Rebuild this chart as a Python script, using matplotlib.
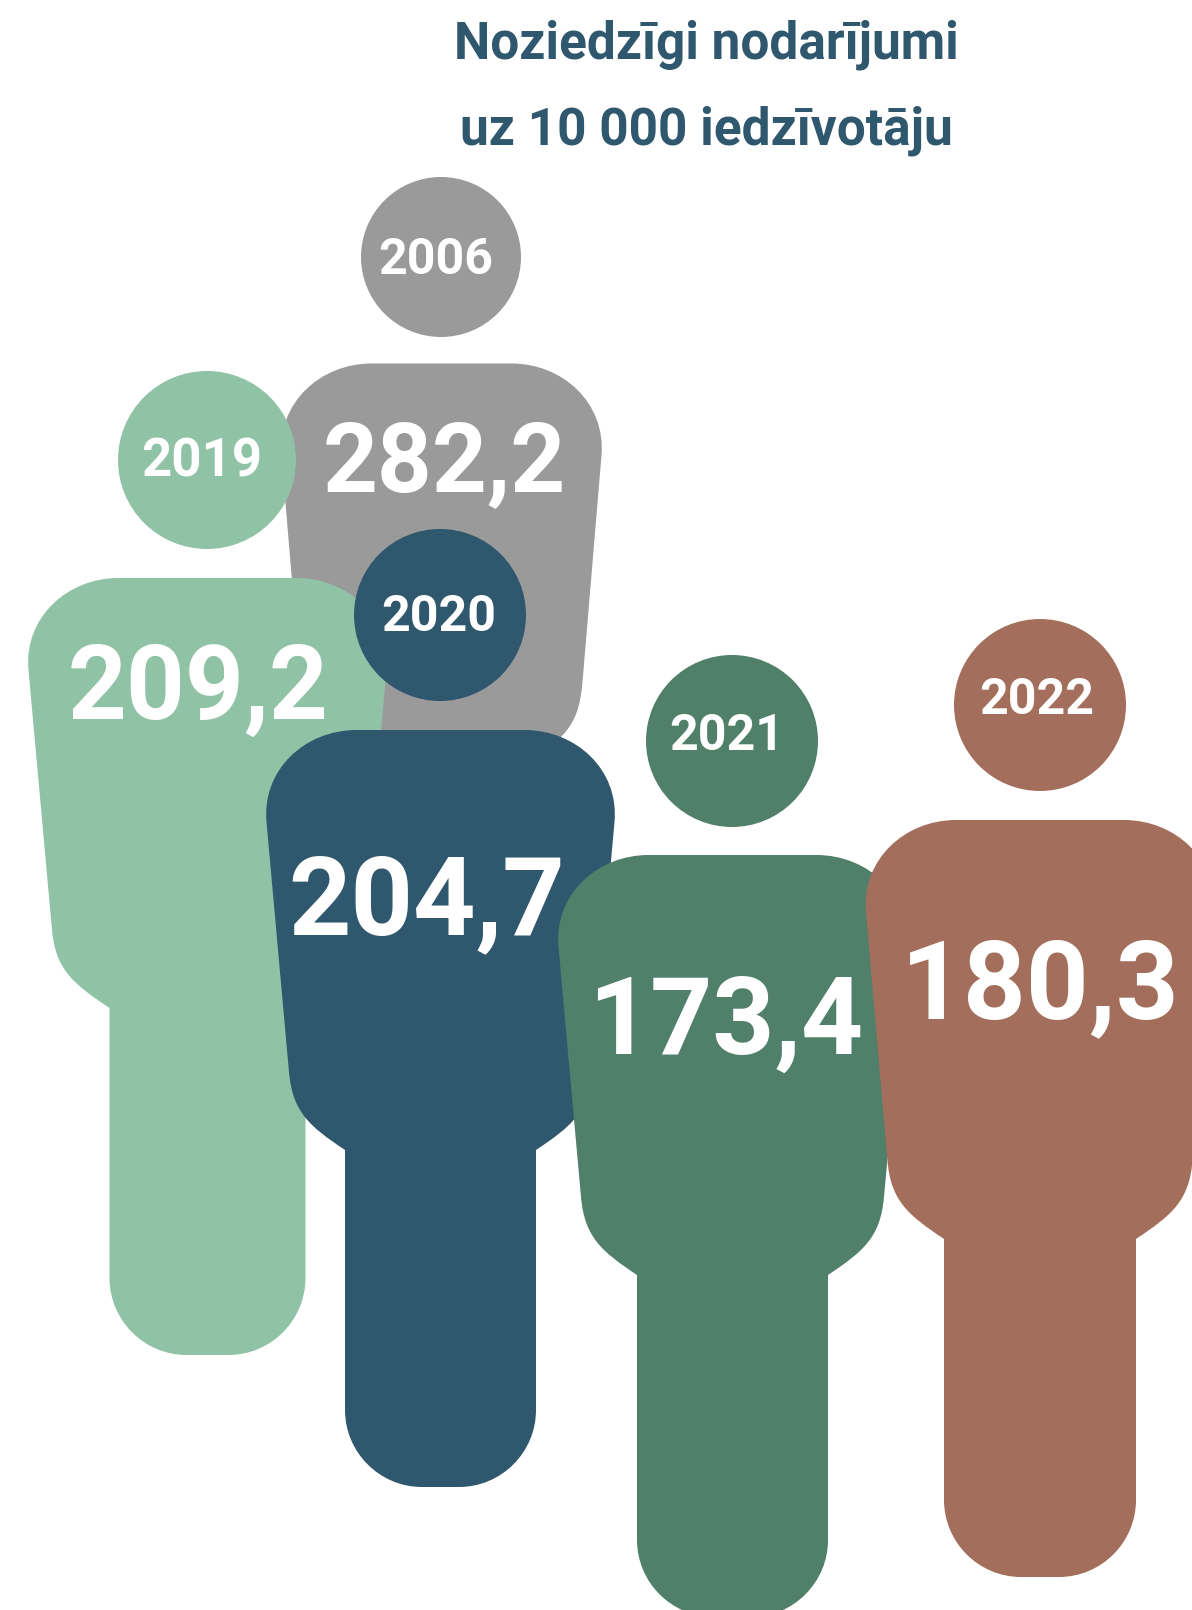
import matplotlib
matplotlib.use("Agg")
import matplotlib.pyplot as plt
from matplotlib.patches import Circle, PathPatch
from matplotlib.path import Path

plt.rcParams["font.family"] = ["Roboto", "DejaVu Sans"]

# data, in drawing order
years = ["2006", "2019", "2020", "2021", "2022"]
values = [282.2, 209.2, 204.7, 173.4, 180.3]
colors = ["#9A9A9A", "#90C2A6", "#2F576E", "#50806A", "#A46E5C"]
title_lines = ["Noziedzīgi nodarījumi", "uz 10 000 iedzīvotāju"]

# figure layout, in pixels of the picture
cx = [441.5, 207.5, 440.5, 732.5, 1040]
top = [363.5, 578, 730, 855, 820]
half_w = [160, 179, 174, 174, 174]
waist_half = [141, 155.5, 151.5, 151.5, 152.5]
waist_y = [682, 930, 1072, 1197, 1161]
join_y = [760, 1008, 1150, 1275, 1239]
neck_half = [90, 98, 95.5, 95.5, 96]
bottom = [1100, 1355, 1487, 1617, 1577]
head_x = [441, 207, 440, 732, 1040]
head_y = [257, 460, 615, 741, 705]
head_r = [80, 89, 86, 86, 86]
val_x = [444, 198, 427, 726, 1040]
val_y = [491, 719, 934, 1054, 1018]
val_size = [69, 74, 78.5, 78, 79]
year_x = [436, 202, 439, 727, 1037]
year_y = [274, 476, 631, 750, 714]
year_size = [36, 38, 36, 36, 36]
title_y = [58, 144]


def person_path(c, t, hw, wh, wy, jy, nh, b):
    r = 77   # leg end
    k = 0.55 * r
    shoulder = 92
    bend = 90
    corner = 0.57
    slope = (hw - wh) / (wy - t - shoulder)
    verts = [
        (c - hw + bend, t),
        (c + hw - bend, t),
        (c + hw - bend + corner * bend, t),
        (c + hw + corner * slope * shoulder, t + shoulder - corner * shoulder),
        (c + hw, t + shoulder),
        (c + wh, wy),
        (c + wh - slope * 40, wy + 40),
        (c + nh + 36, jy - 24),
        (c + nh, jy),
        (c + nh, b - r),
        (c + nh, b - r + k),
        (c + nh - r + k, b),
        (c + nh - r, b),
        (c - nh + r, b),
        (c - nh + r - k, b),
        (c - nh, b - r + k),
        (c - nh, b - r),
        (c - nh, jy),
        (c - nh - 36, jy - 24),
        (c - wh + slope * 40, wy + 40),
        (c - wh, wy),
        (c - hw, t + shoulder),
        (c - hw - corner * slope * shoulder, t + shoulder - corner * shoulder),
        (c - hw + bend - corner * bend, t),
        (c - hw + bend, t),
    ]
    codes = [Path.MOVETO, Path.LINETO,
             Path.CURVE4, Path.CURVE4, Path.CURVE4,
             Path.LINETO,
             Path.CURVE4, Path.CURVE4, Path.CURVE4,
             Path.LINETO,
             Path.CURVE4, Path.CURVE4, Path.CURVE4,
             Path.LINETO,
             Path.CURVE4, Path.CURVE4, Path.CURVE4,
             Path.LINETO,
             Path.CURVE4, Path.CURVE4, Path.CURVE4,
             Path.LINETO,
             Path.CURVE4, Path.CURVE4, Path.CURVE4]
    return Path(verts, codes)


fig = plt.figure(figsize=(11.92, 16.10), dpi=100)
ax = fig.add_axes([0, 0, 1, 1])
ax.set_xlim(0, 1192)
ax.set_ylim(1610, 0)
ax.axis("off")

for i, year in enumerate(years):
    z = i * 3 + 1
    path = person_path(cx[i], top[i], half_w[i], waist_half[i], waist_y[i],
                       join_y[i], neck_half[i], bottom[i])
    ax.add_patch(PathPatch(path, facecolor=colors[i], edgecolor="none", zorder=z))
    ax.add_patch(Circle((head_x[i], head_y[i]), head_r[i], facecolor=colors[i],
                        edgecolor="none", zorder=z + 1))
    ax.text(year_x[i], year_y[i], year, color="white", fontsize=year_size[i],
            fontweight="bold", ha="center", va="baseline", zorder=z + 2)
    label = f"{values[i]:.1f}".replace(".", ",")
    ax.text(val_x[i], val_y[i], label, color="white", fontsize=val_size[i],
            fontweight="bold", ha="center", va="baseline", zorder=z + 2)

for line, y in zip(title_lines, title_y):
    ax.text(706, y, line, color="#2F576E", fontsize=37, fontweight="bold",
            ha="center", va="baseline", zorder=30)

fig.savefig("out.png", dpi=100)
